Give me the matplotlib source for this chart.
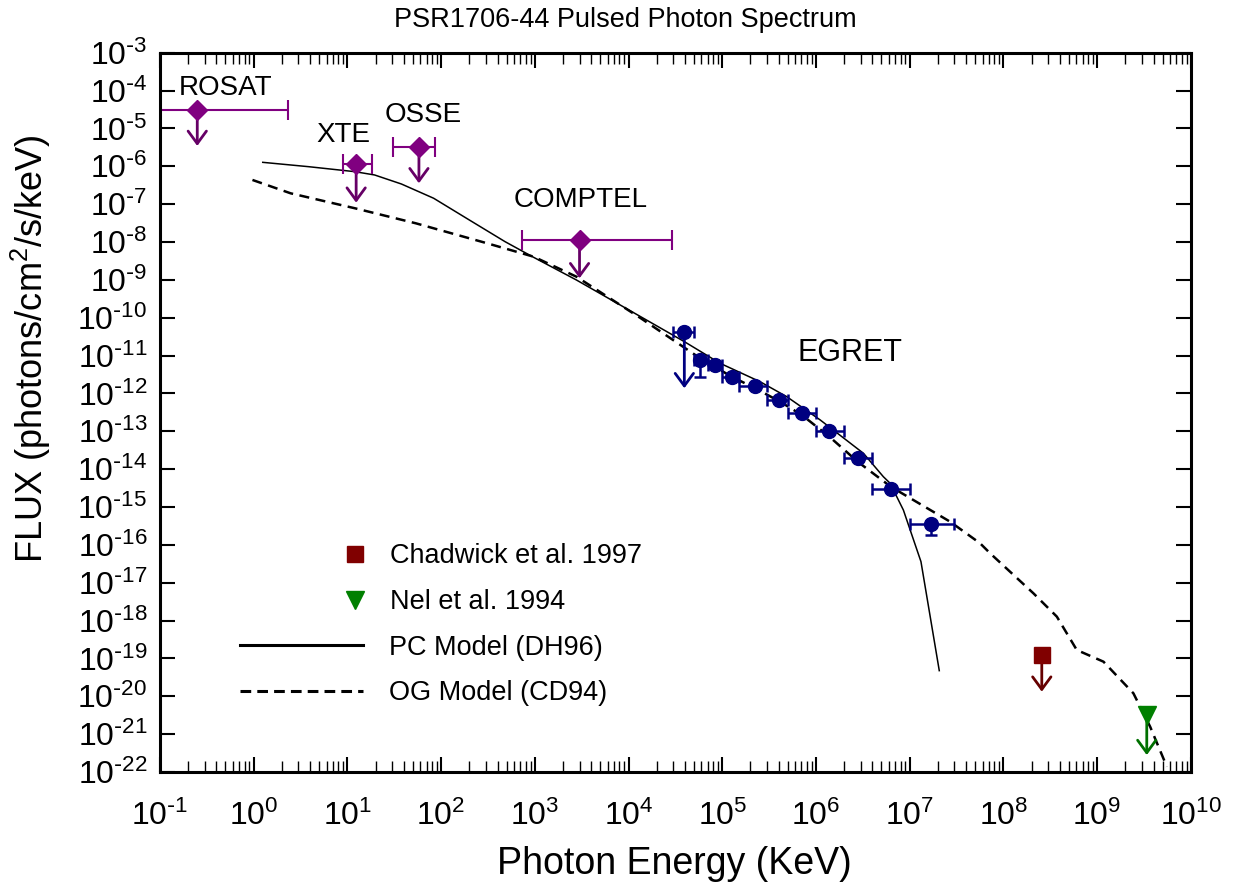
import math
import matplotlib
matplotlib.use('Agg')
import matplotlib.pyplot as plt
from matplotlib.lines import Line2D
from matplotlib.ticker import LogLocator, FuncFormatter, NullLocator

plt.rcParams['font.family'] = ['Liberation Sans', 'DejaVu Sans']
plt.rcParams['mathtext.default'] = 'regular'

# upper limits from ROSAT / XTE / OSSE / COMPTEL (keV, photons/cm2/s/keV)
ul_names = ['ROSAT', 'XTE', 'OSSE', 'COMPTEL']
ul_energy = [0.25, 12.4, 58.0, 3.0e3]
ul_flux = [3.1e-5, 1.15e-6, 3.2e-6, 1.13e-8]
ul_elo = [0.1, 9.0, 30.7, 7.3e2]
ul_ehi = [2.34, 18.3, 86.0, 2.9e4]
ul_tip = [3.44e-6, 1.09e-7, 3.55e-7, 1.1e-9]
ul_label_x = [0.506, 8.98, 64.0, 3110.0]
ul_label_y = [1.17e-4, 6.7e-6, 2.26e-5, 1.29e-7]

# EGRET pulsed points
egret_energy = [3.94e4, 5.8e4, 8.4e4, 1.26e5, 2.24e5, 4.04e5, 7.05e5, 1.39e6, 2.79e6, 6.28e6, 1.69e7]
egret_flux = [4.1e-11, 7.6e-12, 5.6e-12, 2.77e-12, 1.57e-12, 6.7e-13, 3.1e-13, 1.02e-13, 2.0e-14, 3.0e-15, 3.6e-16]
egret_elo = [3e4, 5e4, 7e4, 1e5, 1.5e5, 3e5, 5e5, 1e6, 2e6, 4e6, 1e7]
egret_ehi = [5e4, 7e4, 1e5, 1.5e5, 3e5, 5e5, 1e6, 2e6, 4e6, 1e7, 3e7]
egret_flo = [4.1e-11, 2.7e-12, 5.6e-12, 2.77e-12, 1.57e-12, 6.7e-13, 3.1e-13, 1.02e-13, 2.0e-14, 3.0e-15, 1.8e-16]
egret_ul_energy = 3.94e4
egret_ul_tip = 1.37e-12

# TeV upper limits
chadwick_energy, chadwick_flux, chadwick_tip = 2.57e8, 1.2e-19, 1.32e-20
nel_energy, nel_flux, nel_tip = 3.39e9, 3.2e-21, 2.8e-22

# model curves
pc_energy = [1.25, 3.85, 12.05, 19.5, 37.7, 83.2, 200, 481, 970, 2780, 1.35e4, 3.94e4, 9.48e4,
             2.53e5, 4.88e5, 1.11e6, 3.21e6, 5.24e6, 6.18e6, 8.57e6, 1.32e7, 2.07e7]
pc_flux = [1.27e-6, 9.75e-7, 7.19e-7, 5.89e-7, 3.40e-7, 1.43e-7, 3.81e-8, 1.02e-8, 3.94e-9, 9.9e-10,
           1.06e-10, 2.33e-11, 6.25e-12, 2.04e-12, 8.2e-13, 1.99e-13, 2.62e-14, 6.3e-15, 4.24e-15,
           8.3e-16, 3.6e-17, 4.75e-20]
og_energy = [0.97, 2.48, 12.05, 53.6, 309, 970, 2780, 1.35e4, 5.8e4, 1.26e5, 2.24e5, 4.14e5, 7.05e5,
             1.39e6, 2.79e6, 6.28e6, 2.70e7, 5.64e7, 7.21e7, 2.09e8, 3.72e8, 6.07e8, 1.17e9,
             2.44e9, 3.68e9, 5.55e9]
og_flux = [4.35e-7, 1.93e-7, 7.76e-8, 3.12e-8, 9.25e-9, 4.09e-9, 1.21e-9, 9.7e-11, 8.5e-12, 2.77e-12,
           1.37e-12, 6.05e-13, 2.7e-13, 7.2e-14, 1.57e-14, 3.44e-15, 4.09e-16, 1.1e-16, 6.0e-17,
           5.26e-18, 1.27e-18, 1.67e-19, 8.2e-20, 1.2e-20, 1.58e-21, 1.38e-22]

fig = plt.figure(figsize=(12.43, 8.9), dpi=100)
ax = fig.add_axes([0.1287, 0.1326, 0.8293, 0.8082])
ax.set_xscale('log')
ax.set_yscale('log')

# models
ax.plot(pc_energy, pc_flux, color='black', lw=1.1, zorder=2)
ax.plot(og_energy, og_flux, color='black', lw=1.8, ls=(0, (4, 2.6)), zorder=2)

arrow = dict(arrowstyle='->,head_length=0.45,head_width=0.33', lw=2, shrinkA=0, shrinkB=0, mutation_scale=20)

# purple upper limits
for i in range(len(ul_names)):
    ax.annotate('', xy=(ul_energy[i], ul_tip[i]), xytext=(ul_energy[i], ul_flux[i]),
                arrowprops=dict(arrow, color='#660066'), zorder=3)
    ax.text(ul_label_x[i], ul_label_y[i], ul_names[i], fontsize=20, ha='center', va='center')
ax.errorbar(ul_energy, ul_flux,
            xerr=[[e - lo for e, lo in zip(ul_energy, ul_elo)], [hi - e for e, hi in zip(ul_energy, ul_ehi)]],
            fmt='D', color='#800080', ms=10, elinewidth=1.5, capsize=7, capthick=1.5, zorder=4)

# EGRET
ax.annotate('', xy=(egret_ul_energy, egret_ul_tip), xytext=(egret_ul_energy, egret_flux[0]),
            arrowprops=dict(arrow, color='#000080'), zorder=3)
ax.errorbar(egret_energy, egret_flux,
            xerr=[[e - lo for e, lo in zip(egret_energy, egret_elo)], [hi - e for e, hi in zip(egret_energy, egret_ehi)]],
            yerr=[[f - lo for f, lo in zip(egret_flux, egret_flo)], [0] * len(egret_flux)],
            fmt='o', color='#000080', ms=10, elinewidth=1.8, capsize=4, capthick=1.8, zorder=4)
ax.text(2.31e6, 1.17e-11, 'EGRET', fontsize=22, ha='center', va='center')

# TeV limits
ax.annotate('', xy=(chadwick_energy, chadwick_tip), xytext=(chadwick_energy, chadwick_flux),
            arrowprops=dict(arrow, color='#660000'), zorder=3)
ax.plot(chadwick_energy, chadwick_flux, 's', color='#800000', ms=12, zorder=4)
ax.annotate('', xy=(nel_energy, nel_tip), xytext=(nel_energy, nel_flux),
            arrowprops=dict(arrow, color='#007000'), zorder=3)
ax.plot(nel_energy, nel_flux, 'v', color='#008000', ms=13, zorder=4)

# legends
h1 = [Line2D([], [], marker='s', color='#800000', ls='none', ms=12),
      Line2D([], [], marker='v', color='#008000', ls='none', ms=13)]
leg1 = ax.legend(h1, ['Chadwick et al. 1997', 'Nel et al. 1994'], loc='upper left',
                 bbox_to_anchor=(0.1763, 0.318), frameon=False, fontsize=19.5, borderpad=0,
                 borderaxespad=0, handlelength=1, handletextpad=0.77, labelspacing=0.74)
ax.add_artist(leg1)
h2 = [Line2D([], [], color='black', lw=2.2),
      Line2D([], [], color='black', lw=2.2, ls=(0, (3.5, 2)))]
ax.legend(h2, ['PC Model (DH96)', 'OG Model (CD94)'], loc='upper left',
          bbox_to_anchor=(0.0776, 0.191), frameon=False, fontsize=19.5, borderpad=0,
          borderaxespad=0, handlelength=4.55, handletextpad=0.95, labelspacing=0.73)

# axes styling
ax.set_xlim(1e-1, 1e10)
ax.set_ylim(1e-22, 1e-3)
ax.xaxis.set_major_locator(LogLocator(base=10, numticks=20))
ax.xaxis.set_minor_locator(LogLocator(base=10, subs=range(2, 10), numticks=20))
ax.yaxis.set_major_locator(LogLocator(base=10, numticks=30))
ax.yaxis.set_minor_locator(NullLocator())


def power_label(v, pos):
    e = int(round(math.log10(v)))
    if e < 0:
        return r'$\mathregular{10^{\text{-}%d}}$' % -e
    return r'$\mathregular{10^{%d}}$' % e


fmt = FuncFormatter(power_label)
ax.xaxis.set_major_formatter(fmt)
ax.yaxis.set_major_formatter(fmt)
ax.tick_params(which='both', direction='in', top=True, right=True, labelsize=23)
ax.tick_params(axis='x', which='major', length=11, width=1.5, pad=21)
ax.tick_params(axis='x', which='minor', length=8, width=1.0)
ax.tick_params(axis='y', which='major', length=11, width=1.5, pad=9)
for s in ax.spines.values():
    s.set_linewidth(2.2)
    s.set_zorder(5)

ax.set_xlabel('Photon Energy (KeV)', fontsize=27)
ax.set_ylabel('FLUX (photons/cm$^2$/s/keV)', fontsize=26)
ax.xaxis.set_label_coords(0.4995, -0.103)
ax.yaxis.set_label_coords(-0.1038, 0.589)
fig.text(0.503, 0.978, 'PSR1706-44 Pulsed Photon Spectrum', fontsize=19.5, ha='center', va='center')

fig.savefig('out.png', dpi=100)
